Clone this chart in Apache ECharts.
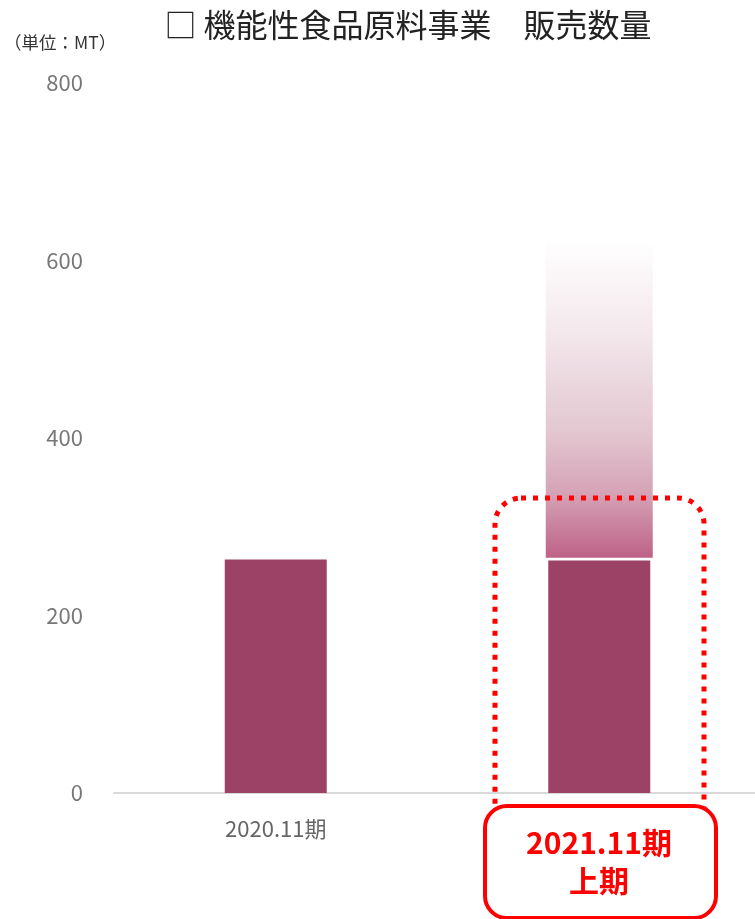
<!DOCTYPE html>
<html><head><meta charset="utf-8">
<script src="https://cdn.jsdelivr.net/npm/echarts@6/dist/echarts.min.js"></script>
<style>html,body{margin:0;padding:0;background:#fff;overflow:hidden;width:755px;height:919px}#c{width:761px;height:919px}</style>
</head><body><div id="c"></div>
<script>
const categories = ['2020.11期', '2021.11期'];
const actualValues = [263, 262];
const forecastBase = [null, 265];
const forecastTop = [null, 623];
const yTicks = [0, 200, 400, 600, 800];

const FONT = '"Noto Sans CJK JP", "Noto Sans", sans-serif';
const chart = echarts.init(document.getElementById('c'));
const forecastRange = forecastTop.map((t, i) => t == null ? null : t - forecastBase[i]);

chart.setOption({
  animation: false,
  title: {
    text: '□ 機能性食品原料事業　販売数量',
    left: 403, top: 4, textAlign: 'center',
    textStyle: { fontFamily: FONT, fontSize: 32, fontWeight: 'normal', color: '#222' }
  },
  graphic: [
    { type: 'text', left: 4, top: 34, style: { text: '（単位：MT）', font: '17.5px ' + FONT, fill: '#333' } },
    { type: 'rect', z: 100, shape: { x: 495, y: 498, width: 209, height: 340, r: 26 },
      style: { fill: 'none', stroke: '#ff0000', lineWidth: 5, lineDash: [5, 7] } },
    { type: 'rect', z: 110, shape: { x: 485, y: 806, width: 231, height: 112, r: 22 },
      style: { fill: '#fff', stroke: '#ff0000', lineWidth: 4 } },
    { type: 'text', z: 120,
      style: { text: '2021.11期\n上期', x: 599, y: 862, textAlign: 'center', textVerticalAlign: 'middle',
        font: 'bold 30px ' + FONT, fill: '#ff0000', lineHeight: 38 } }
  ],
  grid: { left: 114, right: 0, top: 83, bottom: 126 },
  xAxis: [
    { type: 'category', data: categories,
      axisLine: { lineStyle: { color: '#d9d9d9', width: 2 } }, axisTick: { show: false },
      axisLabel: { fontFamily: FONT, fontSize: 22, color: '#666', margin: 25,
        formatter: (v, i) => i === 0 ? v : '' } },
    { type: 'category', data: categories, show: false }
  ],
  yAxis: {
    type: 'value', min: 0, max: 800, interval: 200,
    axisLine: { show: false }, axisTick: { show: false },
    splitLine: { show: false },
    axisLabel: { fontFamily: FONT, fontSize: 22, color: '#777', margin: 31,
      formatter: v => yTicks.includes(v) ? String(v) : '' }
  },
  series: [
    { type: 'bar', xAxisIndex: 0, data: actualValues, barWidth: 102,
      itemStyle: { color: '#9c4266' } },
    { type: 'bar', xAxisIndex: 1, stack: 'f', data: forecastBase, barWidth: 107,
      itemStyle: { color: 'rgba(0,0,0,0)' }, silent: true },
    { type: 'bar', xAxisIndex: 1, stack: 'f', data: forecastRange, barWidth: 107,
      itemStyle: { color: new echarts.graphic.LinearGradient(0, 0, 0, 1, [
        { offset: 0, color: 'rgba(255,255,255,1)' },
        { offset: 0.3, color: '#f3e7ec' },
        { offset: 0.6, color: '#e3c7d1' },
        { offset: 0.8, color: '#d5a2b5' },
        { offset: 1, color: '#be6287' }
      ]) } }
  ]
});
</script></body></html>
